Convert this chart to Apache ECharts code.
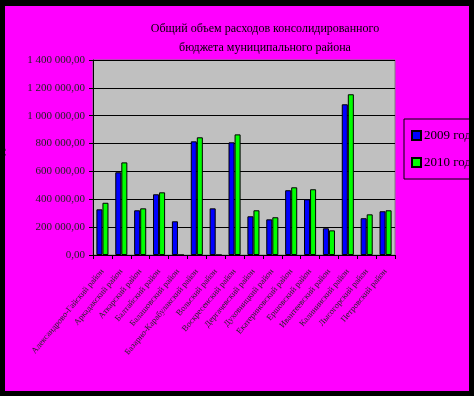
<!DOCTYPE html>
<html><head><meta charset="utf-8">
<script src="https://cdn.jsdelivr.net/npm/echarts@6/dist/echarts.min.js"></script>
<style>
html,body{margin:0;padding:0;background:#000;}
#wrap{position:absolute;left:0;top:0;width:474px;height:396px;background:#000;overflow:hidden;}
#c{position:absolute;left:5px;top:6px;width:464px;height:385px;background:#FF00FF;overflow:hidden;}
</style></head>
<body><div id="wrap"><div id="c"></div></div>
<script>
const titleLines = ['Общий объем расходов консолидированного', 'бюджета муниципального района'];
const categories = [
  'Александрово-Гайский район', 'Аркадакский район', 'Аткарский район', 'Балтайский район',
  'Балашовский район', 'Базарно-Карабулакский район', 'Вольский район', 'Воскресенский район',
  'Дергачевский район', 'Духовницкий район', 'Екатериновский район', 'Ершовский район',
  'Ивантеевский район', 'Калининский район', 'Лысогорский район', 'Петровский район'
];
const seriesNames = ['2009 год', '2010 год'];
const values2009 = [328000, 594000, 321000, 436000, 242000, 816000, 335000, 809000, 278000, 256000, 465000, 400000, 192000, 1082000, 264000, 314000];
const values2010 = [375000, 665000, 335000, 450000, 0, 845000, 0, 866000, 321000, 271000, 486000, 472000, 177000, 1154000, 292000, 321000];
const yAxisName = 'тыс. руб.';

const serif = '"Liberation Serif","DejaVu Serif","Times New Roman",serif';
function fmt(v){
  const s = Math.round(v).toString().replace(/\B(?=(\d{3})+(?!\d))/g, ' ');
  return s + ',00';
}
const chart = echarts.init(document.getElementById('c'), null, {renderer:'canvas'});
chart.setOption({
  backgroundColor: '#FF00FF',
  animation: false,
  title: {
    text: titleLines.join('\n'),
    left: 255, top: 8, textAlign: 'center',
    textStyle: {fontFamily: serif, fontSize: 12, fontWeight: 'normal', color: '#000', lineHeight: 19}
  },
  legend: {
    orient: 'vertical',
    left: 399, top: 113,
    padding: [10, 20, 10, 7],
    itemGap: 14,
    itemWidth: 9, itemHeight: 9,
    borderColor: '#000', borderWidth: 1,
    icon: 'rect',
    textStyle: {fontFamily: serif, fontSize: 13, color: '#000', padding: [0,0,0,-2]},
    data: seriesNames
  },
  grid: {
    left: 88, top: 54, width: 302, height: 195,
    show: true, backgroundColor: '#C0C0C0', borderColor: '#808080', borderWidth: 1,
    containLabel: false,
    outerBoundsMode: 'none'
  },
  xAxis: {
    type: 'category',
    data: categories,
    axisLine: {lineStyle: {color: '#000', width: 1}},
    axisTick: {show: true, length: 4, lineStyle: {color: '#000'}},
    axisLabel: {rotate: 50, interval: 0, margin: 15, fontFamily: serif, fontSize: 8.5, color: '#222'}
  },
  yAxis: {
    type: 'value',
    min: 0, max: 1400000, interval: 200000,
    name: yAxisName,
    nameLocation: 'middle', nameRotate: 90, nameGap: 87,
    nameTextStyle: {fontFamily: serif, fontSize: 10, color: '#222'},
    axisLine: {show: true, lineStyle: {color: '#000', width: 1}},
    axisTick: {show: true, length: 4, lineStyle: {color: '#000'}},
    splitLine: {show: true, lineStyle: {color: '#000', width: 1}},
    axisLabel: {formatter: fmt, margin: 8, fontFamily: serif, fontSize: 11, color: '#222'}
  },
  series: [
    {name: seriesNames[0], type: 'bar', data: values2009, barGap: '0%', barCategoryGap: '36%',
     itemStyle: {color: '#0000FF', borderColor: '#000', borderWidth: 1}},
    {name: seriesNames[1], type: 'bar', data: values2010, barGap: '0%', barCategoryGap: '36%',
     itemStyle: {color: '#00FF00', borderColor: '#000', borderWidth: 1}}
  ]
});
</script></body></html>
